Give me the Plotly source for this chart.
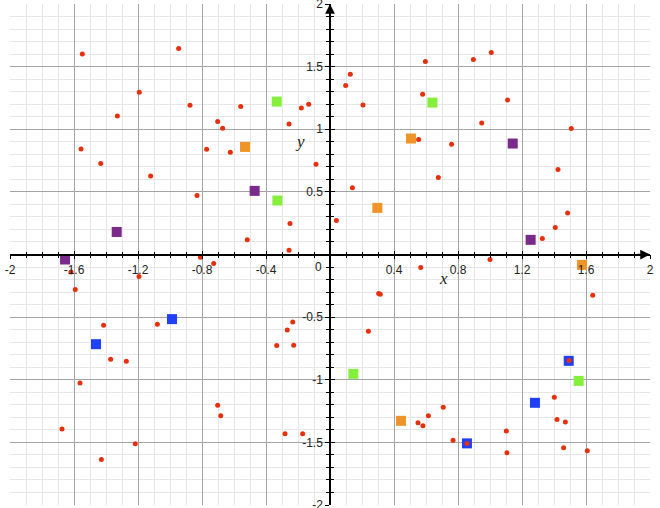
import plotly.graph_objects as go

# ---- data ----
red_x = [-1.548, -0.946, -1.192, -0.875, -1.329, -0.558, -0.179, -0.133, -0.702, -0.671,
         -0.256, -1.556, -0.771, -0.623, -1.433, -0.0875, -1.121, -0.831, -0.250, -0.517,
         -0.256, -0.810,
         0.127, 0.098, 0.206, 0.596, 0.896, 1.008, 0.579, 1.110, 0.948, 1.508,
         0.554, 0.760, 0.677, 1.425, 0.140, 0.040, 1.485, 1.408, 1.327, 1.000,
         -1.619, -1.592, -1.194, -0.727, -1.415, -1.079, -1.371, -1.273, -1.5625, -1.675,
         -1.217, -1.429, -0.702, -0.683, -0.281, -0.171, -0.233, -0.267, -0.333, -0.227,
         0.567, 0.304, 0.314, 1.642, 0.240, 1.494, 1.402, 0.708, 0.615, 0.550,
         0.581, 1.419, 1.471, 1.102, 0.769, 0.856, 1.106, 1.460, 1.608]
red_y = [1.601, 1.644, 1.295, 1.192, 1.106, 1.181, 1.170, 1.199, 1.061, 1.008,
         1.042, 0.843, 0.840, 0.816, 0.726, 0.720, 0.627, 0.471, 0.247, 0.117,
         0.034, -0.022,
         1.439, 1.349, 1.194, 1.540, 1.556, 1.612, 1.279, 1.234, 1.050, 1.005,
         0.918, 0.880, 0.614, 0.678, 0.532, 0.271, 0.332, 0.215, 0.128, -0.040,
         -0.139, -0.279, -0.176, -0.072, -0.564, -0.556, -0.836, -0.852, -1.025, -1.394,
         -1.511, -1.636, -1.203, -1.288, -1.432, -1.432, -0.538, -0.602, -0.726, -0.724,
         -0.104, -0.311, -0.317, -0.325, -0.612, -0.846, -1.139, -1.219, -1.288, -1.344,
         -1.368, -1.317, -1.338, -1.410, -1.484, -1.508, -1.583, -1.543, -1.567]

orange_x = [-0.531, 0.506, 0.296, 1.575, 0.444]
orange_y = [0.859, 0.926, 0.372, -0.083, -1.328]

green_x = [-0.333, -0.329, 0.640, 0.146, 1.554]
green_y = [1.221, 0.431, 1.213, -0.953, -1.009]

purple_x = [-0.471, -1.333, -1.656, 1.142, 1.254]
purple_y = [0.508, 0.180, -0.040, 0.886, 0.117]

blue_x = [-0.9875, -1.4625, 1.492, 1.281, 0.856]
blue_y = [-0.516, -0.716, -0.849, -1.184, -1.508]

x_tickvals = [-2, -1.6, -1.2, -0.8, -0.4, 0.4, 0.8, 1.2, 1.6, 2]
x_ticktext = ["-2", "-1.6", "-1.2", "-0.8", "-0.4", "0.4", "0.8", "1.2", "1.6", "2"]
y_tickvals = [-2, -1.5, -1, -0.5, 0.5, 1, 1.5, 2]
y_ticktext = ["-2", "-1.5", "-1", "-0.5", "0.5", "1", "1.5", "2"]

fig = go.Figure()

def sq(x, y, color):
    fig.add_trace(go.Scatter(x=x, y=y, mode="markers", showlegend=False, hoverinfo="skip",
                             marker=dict(symbol="square", size=10, color=color,
                                         line=dict(width=0))))

sq(orange_x, orange_y, "#ef9426")
sq(green_x, green_y, "#84f03c")
sq(purple_x, purple_y, "#7a2a8a")
sq(blue_x, blue_y, "#2040f8")

fig.add_trace(go.Scatter(x=red_x, y=red_y, mode="markers", showlegend=False, hoverinfo="skip",
                         marker=dict(symbol="circle", size=5, color="#e6300c", line=dict(width=0))))

# empty trace to activate overlay axes (ticks on the other side of axis lines)
fig.add_trace(go.Scatter(x=[], y=[], xaxis="x2", yaxis="y2", showlegend=False))

tickfont = dict(family="Liberation Sans, Arial, sans-serif", size=12, color="#222")

fig.update_layout(
    width=660, height=508,
    margin=dict(l=10, r=10, t=4, b=3),
    paper_bgcolor="white", plot_bgcolor="white",
    xaxis=dict(range=[-2, 2], anchor="free", position=0.5, side="bottom",
               showline=True, linecolor="#000", linewidth=1.5,
               showgrid=True, gridcolor="#a4a4a4", gridwidth=1,
               zeroline=False,
               tickmode="array", tickvals=x_tickvals, ticktext=x_ticktext,
               ticks="outside", ticklen=4, tickcolor="#000", tickwidth=1,
               tickfont=tickfont, fixedrange=True, automargin=False,
               ticklabeloverflow="allow",
               minor=dict(showgrid=True, gridcolor="#e6e6e6", gridwidth=1,
                          tickmode="linear", dtick=0.1, tick0=0,
                          ticks="outside", ticklen=3, tickcolor="#000")),
    yaxis=dict(range=[-2, 2], anchor="free", position=0.5, side="left",
               showline=True, linecolor="#000", linewidth=1.5,
               showgrid=True, gridcolor="#a4a4a4", gridwidth=1,
               zeroline=False,
               tickmode="array", tickvals=y_tickvals, ticktext=y_ticktext,
               ticks="outside", ticklen=4, tickcolor="#000", tickwidth=1,
               tickfont=tickfont, fixedrange=True, automargin=False,
               ticklabeloverflow="allow",
               minor=dict(showgrid=True, gridcolor="#e6e6e6", gridwidth=1,
                          tickmode="linear", dtick=0.1, tick0=0,
                          ticks="outside", ticklen=3, tickcolor="#000")),
    xaxis2=dict(range=[-2, 2], overlaying="x", anchor="free", position=0.5, side="bottom",
                showline=False, showgrid=False, zeroline=False, showticklabels=False,
                tickmode="array", tickvals=x_tickvals,
                ticks="inside", ticklen=4, tickcolor="#000",
                minor=dict(tickmode="linear", dtick=0.1, tick0=0, ticks="inside",
                           ticklen=3, tickcolor="#000", showgrid=False)),
    yaxis2=dict(range=[-2, 2], overlaying="y", anchor="free", position=0.5, side="left",
                showline=False, showgrid=False, zeroline=False, showticklabels=False,
                tickmode="array", tickvals=y_tickvals,
                ticks="inside", ticklen=4, tickcolor="#000",
                minor=dict(tickmode="linear", dtick=0.1, tick0=0, ticks="inside",
                           ticklen=3, tickcolor="#000", showgrid=False)),
    annotations=[
        dict(x=2, y=0, xref="x", yref="y", ax=-14, ay=0, axref="pixel", ayref="pixel",
             text="", showarrow=True, arrowhead=2, arrowsize=1.3, arrowwidth=1.5,
             arrowcolor="#000"),
        dict(x=0, y=2, xref="x", yref="y", ax=0, ay=14, axref="pixel", ayref="pixel",
             text="", showarrow=True, arrowhead=2, arrowsize=1.3, arrowwidth=1.5,
             arrowcolor="#000"),
        dict(x=0, y=0, xref="x", yref="y", text="0", showarrow=False,
             xshift=-12, yshift=-12, font=tickfont),
        dict(x=0.71, y=-0.19, xref="x", yref="y", text="<i>x</i>", showarrow=False,
             font=dict(family="Liberation Serif, DejaVu Serif, serif", size=17, color="#222")),
        dict(x=-0.19, y=0.9, xref="x", yref="y", text="<i>y</i>", showarrow=False,
             font=dict(family="Liberation Serif, DejaVu Serif, serif", size=17, color="#222")),
    ],
)

fig.write_html("out.html", config={"displayModeBar": False},
               post_script="document.body.style.margin='0';")
